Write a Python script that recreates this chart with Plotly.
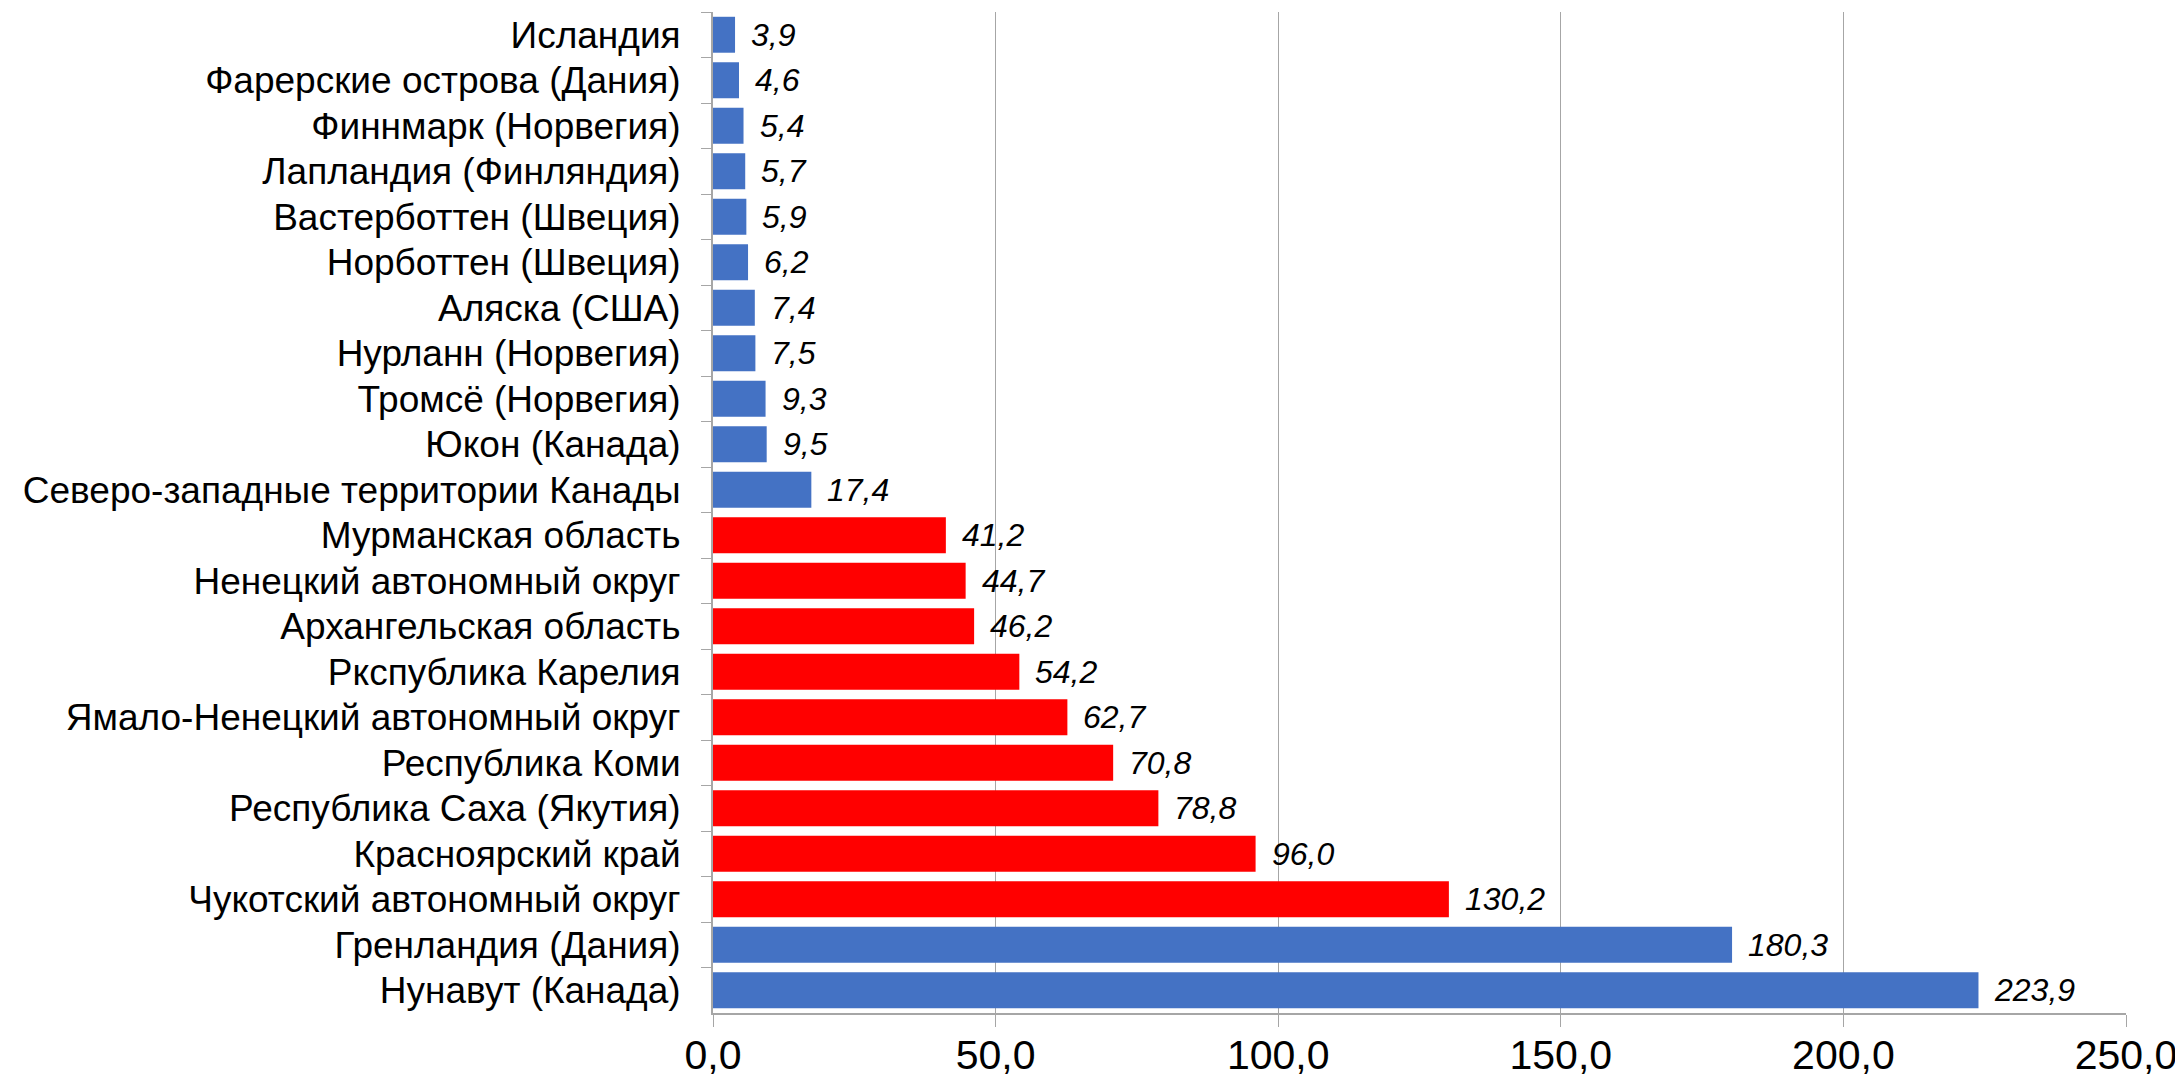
import plotly.graph_objects as go

categories = [
    "Исландия",
    "Фарерские острова (Дания)",
    "Финнмарк (Норвегия)",
    "Лапландия (Финляндия)",
    "Вастерботтен (Швеция)",
    "Норботтен (Швеция)",
    "Аляска (США)",
    "Нурланн (Норвегия)",
    "Тромсё (Норвегия)",
    "Юкон (Канада)",
    "Северо-западные территории Канады",
    "Мурманская область",
    "Ненецкий автономный округ",
    "Архангельская область",
    "Ркспублика Карелия",
    "Ямало-Ненецкий автономный округ",
    "Республика Коми",
    "Республика Саха (Якутия)",
    "Красноярский край",
    "Чукотский автономный округ",
    "Гренландия (Дания)",
    "Нунавут (Канада)",
]
values = [3.9, 4.6, 5.4, 5.7, 5.9, 6.2, 7.4, 7.5, 9.3, 9.5, 17.4,
          41.2, 44.7, 46.2, 54.2, 62.7, 70.8, 78.8, 96.0, 130.2,
          180.3, 223.9]
groups = ["other"] * 11 + ["russia"] * 9 + ["other"] * 2
x_ticks = [0, 50, 100, 150, 200, 250]

group_colors = {"other": "#4472C4", "russia": "#FF0000"}
colors = [group_colors[g] for g in groups]

FONT = "Arial, Liberation Sans, sans-serif"
GRID = "#A6A6A6"

fig = go.Figure()
fig.add_trace(go.Bar(
    x=values, y=categories, orientation="h",
    marker=dict(color=colors, line=dict(width=0)),
    hoverinfo="x+y",
))

for c, v in zip(categories, values):
    fig.add_annotation(
        x=v, y=c, xref="x", yref="y",
        text=f"<i>{v:.1f}</i>".replace(".", ","),
        showarrow=False, xanchor="left", yanchor="middle",
        xshift=14, font=dict(family=FONT, size=32, color="#000000"),
    )

# the page body adds an 8px offset, so the figure is 8px smaller
fig.update_layout(
    width=2175, height=1074,
    margin=dict(l=705, r=57, t=4, b=69),
    paper_bgcolor="white", plot_bgcolor="white",
    separators=", ",
    bargap=0.21,
    showlegend=False,
    font=dict(family=FONT, color="#000000"),
)
fig.update_xaxes(
    range=[0, 250], tickvals=x_ticks, tickformat=".1f",
    showgrid=True, gridcolor=GRID, gridwidth=1.3,
    zeroline=False, automargin=False,
    showline=True, linecolor=GRID, linewidth=2,
    ticks="outside", ticklen=12, tickcolor=GRID, tickwidth=1.3,
    tickfont=dict(family=FONT, size=41, color="#000000"),
    ticklabelstandoff=-7,
)
fig.update_yaxes(
    type="category", categoryorder="array", categoryarray=categories,
    autorange="reversed", automargin=False,
    showgrid=False, zeroline=False,
    showline=True, linecolor=GRID, linewidth=2,
    ticks="outside", ticklen=10, tickcolor=GRID, tickwidth=1.3,
    tickson="boundaries",
    tickfont=dict(family=FONT, size=37, color="#000000"),
    ticklabelstandoff=23,
)

fig.write_html("out.html")
